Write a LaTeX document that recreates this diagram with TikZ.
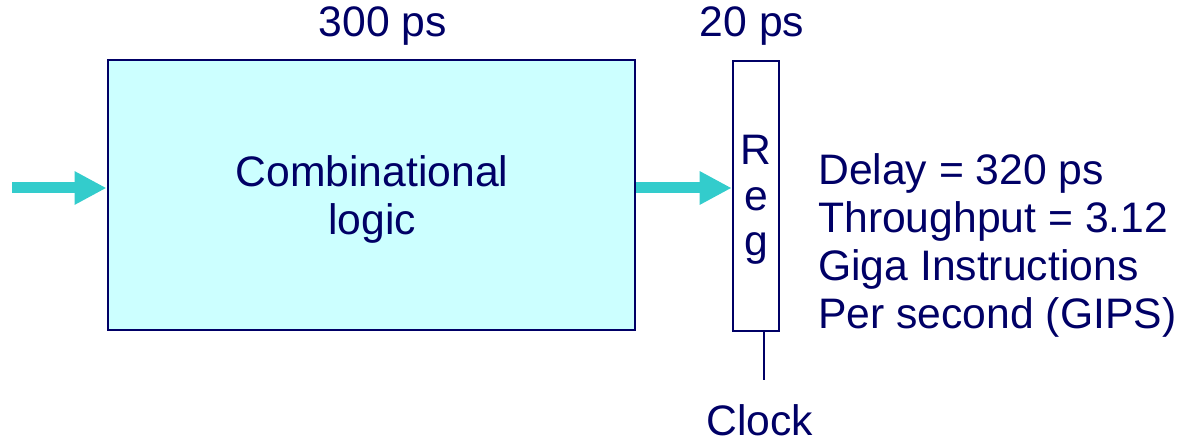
\documentclass[tikz,border=0pt]{standalone}
\usepackage{fontspec}
\setmainfont{Liberation Sans}
\usetikzlibrary{arrows.meta}
\definecolor{navy}{RGB}{0,0,102}
\definecolor{logicfill}{RGB}{204,255,255}
\definecolor{flowteal}{RGB}{51,204,204}
\begin{document}
\begin{tikzpicture}[x=0.75pt,y=-0.75pt,
  every node/.style={text=navy,inner sep=0pt,font=\fontsize{32}{36}\selectfont},
  logicbox/.style={draw=navy,line width=2.2pt,fill=logicfill,minimum width=527*0.75pt,minimum height=270*0.75pt},
  regbox/.style={draw=navy,line width=2pt,fill=white,minimum width=46*0.75pt,minimum height=270*0.75pt},
  flow/.style={draw=flowteal,line width=8.25pt,-{Triangle[length=24pt,width=23.5pt]}},
  wire/.style={draw=navy,line width=2pt},
  label/.style={anchor=base}]
  \useasboundingbox (0,0) rectangle (1179,442);
  % combinational logic block and pipeline register
  \node[logicbox] (comb) at (371.5,195) {};
  \node[align=center] (combtext) at (372,199) {Combinational\\logic};
  \node[regbox] (reg) at (756,196) {};
  \node[align=center,font=\fontsize{32}{34}\selectfont] (regtext) at (756,200) {R\\e\\g};
  % delay labels
  \node[label] (combdelay) at (383,37) {300 ps};
  \node[label] (regdelay) at (752,37) {20 ps};
  % data flow
  \coordinate (src) at (12,188);
  \draw[flow] (src) -- (comb.west |- src);
  \draw[flow] (comb.east |- 0,188) -- (reg.west |- 0,188);
  % clock input
  \coordinate (clktop) at (764,331);
  \coordinate (clkend) at (764,380);
  \draw[wire] (clktop) -- (clkend);
  \node[label] (clock) at (760,435) {Clock};
  % performance summary
  \node[anchor=base west] (info1) at (818,185) {Delay = 320 ps};
  \node[anchor=base west] (info2) at (818,233) {Throughput = 3.12};
  \node[anchor=base west] (info3) at (818,281) {Giga Instructions};
  \node[anchor=base west] (info4) at (818,329) {Per second (GIPS)};
\end{tikzpicture}
\end{document}
